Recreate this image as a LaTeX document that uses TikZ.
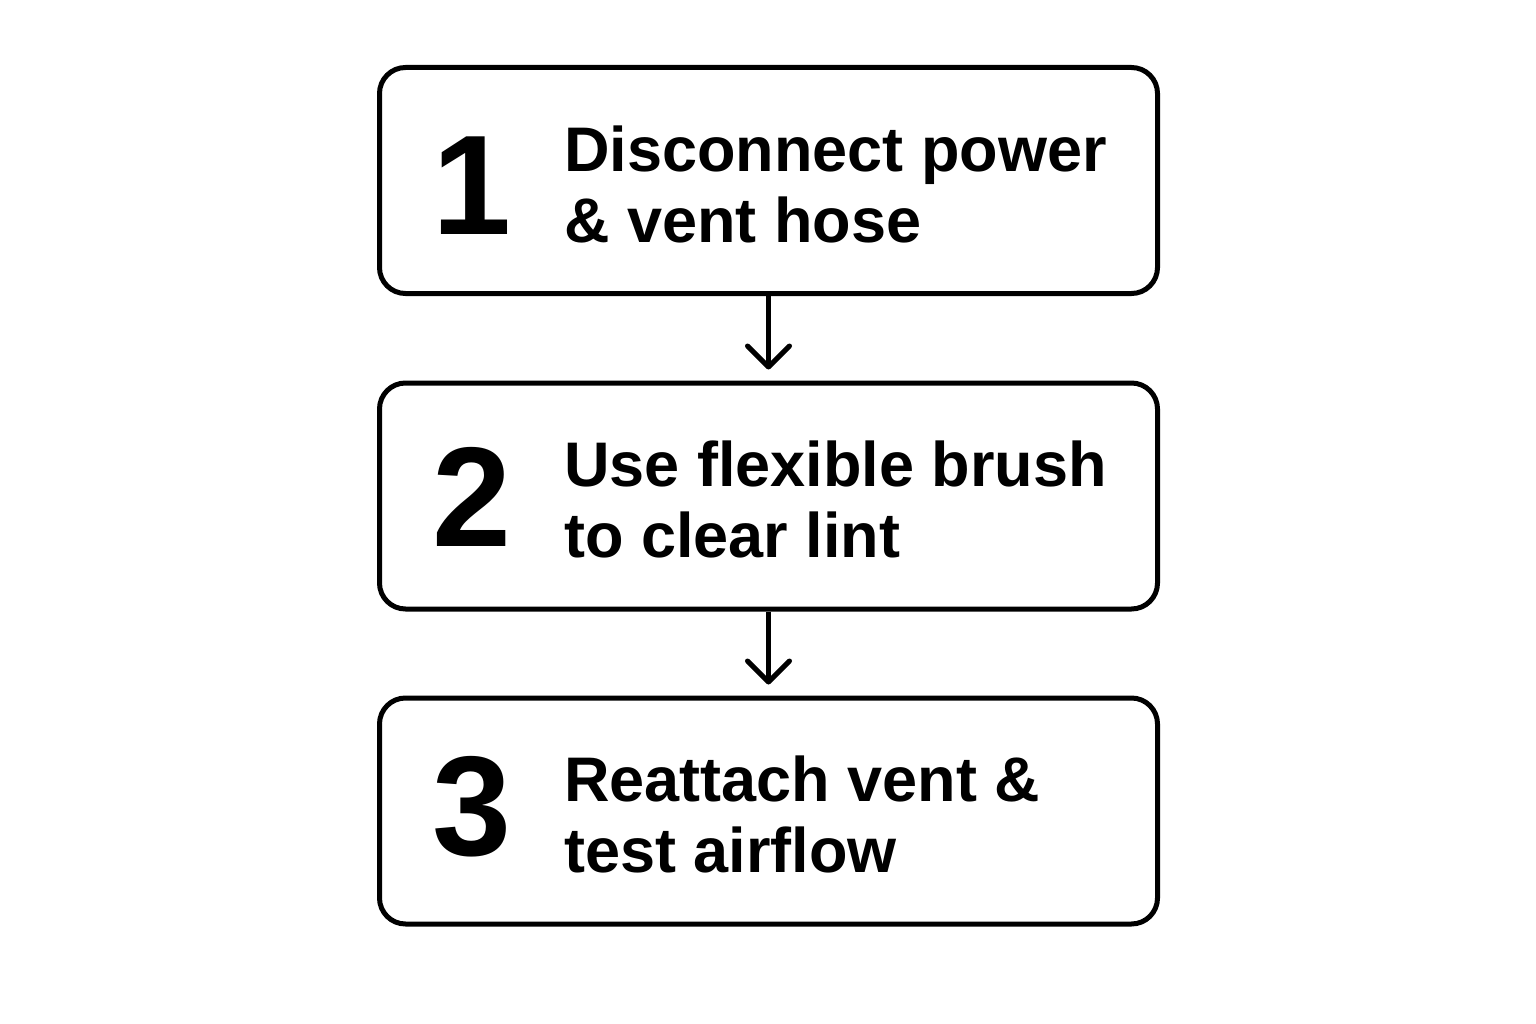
\documentclass[tikz,border=0pt]{standalone}
\usepackage{fontspec}
\setmainfont{Liberation Sans}
\newfontfamily\stepfont{Liberation Sans}
\usetikzlibrary{arrows.meta}
\tikzset{
  stepbox/.style={draw=black, line width=5pt, rounded corners=26pt, minimum width=778pt, minimum height=226pt, inner sep=0pt},
  stepnum/.style={anchor=base, inner sep=0pt, font=\fontsize{142}{142}\selectfont\bfseries},
  steptext/.style={anchor=west, align=left, inner sep=0pt, font=\stepfont\fontsize{63}{71}\selectfont\bfseries},
  flow/.style={draw=black, line width=5pt, -{Straight Barb[length=21pt,width=42pt,round]}, shorten >=11pt}
}
\begin{document}
\begin{tikzpicture}[x=1pt,y=-1pt]
\useasboundingbox (0,0) rectangle (1536,1024);
\fill[white] (0,0) rectangle (1536,1024);
\node[stepbox] (b1) at (768.5,180.5) {};
\node[stepbox] (b2) at (768.5,496) {};
\node[stepbox] (b3) at (768.5,811) {};
\node[stepnum] (n1) at (472,235) {1};
\node[stepnum] (n2) at (472,546) {2};
\node[stepnum] (n3) at (472,855) {3};
\node[steptext] (t1) at (564,184) {Disconnect power\\\& vent hose};
\node[steptext] (t2) at (564,499.5) {Use flexible brush\\to clear lint};
\node[steptext] (t3) at (564,814.5) {Reattach vent \&\\test airflow};
\draw[flow] (b1.south) -- (b2.north);
\draw[flow] (b2.south) -- (b3.north);
\end{tikzpicture}
\end{document}
